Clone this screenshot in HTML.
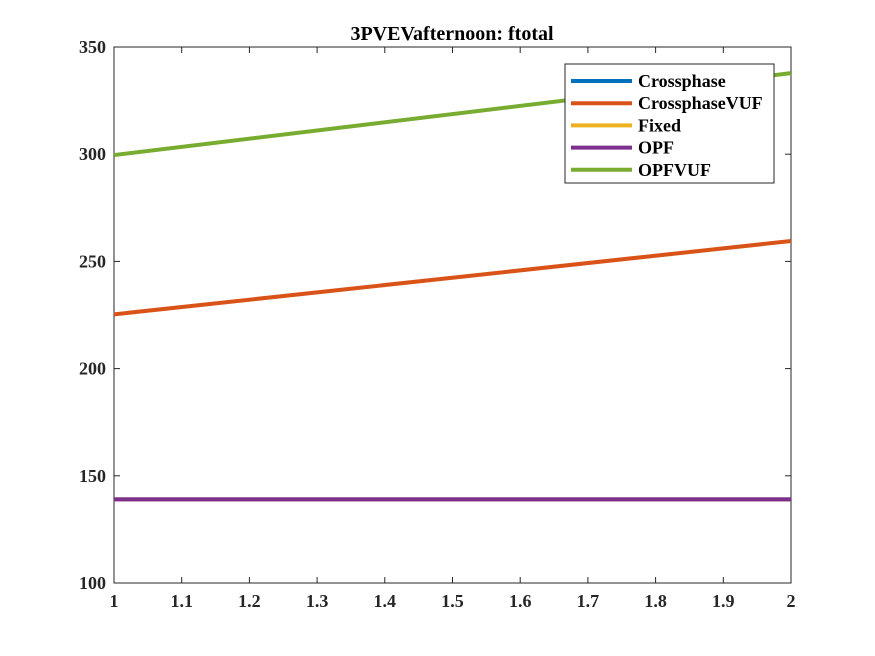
<!DOCTYPE html>
<html><head><meta charset="utf-8"><style>
body{margin:0;background:#fff;}
svg{display:block;font-family:"Liberation Serif",serif;font-weight:bold;}
</style></head><body>
<svg id="chart" width="875" height="656">
<rect width="875" height="656" fill="#fff"/>
<text x="452" y="40" text-anchor="middle" font-size="20">3PVEVafternoon: ftotal</text>
<rect x="114" y="47" width="677" height="536" fill="#fff" stroke="#262626" stroke-width="1"/>
<g id="ticks"></g>
<g id="series"></g>
<g id="legend"></g>
</svg>
<script>
const xTicks=[1,1.1,1.2,1.3,1.4,1.5,1.6,1.7,1.8,1.9,2];
const xTickLabels=["1","1.1","1.2","1.3","1.4","1.5","1.6","1.7","1.8","1.9","2"];
const yTicks=[100,150,200,250,300,350];
const xValues=[1,2];
const seriesNames=["Crossphase","CrossphaseVUF","Fixed","OPF","OPFVUF"];
const seriesColors=["#0072BD","#D95319","#EDB120","#7E2F8E","#77AC30"];
const crossphase=[139,139];
const crossphaseVUF=[225.3,259.5];
const fixed=[139,139];
const opf=[139,139];
const opfVUF=[299.6,337.8];
const allSeries=[crossphase,crossphaseVUF,fixed,opf,opfVUF];

const L=114,R=791,T=47,B=583;
const xs=v=>L+(v-1)/(2-1)*(R-L);
const ys=v=>B-(v-100)/(350-100)*(B-T);
const NS="http://www.w3.org/2000/svg";
function mk(tag,attrs,parent){const e=document.createElementNS(NS,tag);for(const k in attrs)e.setAttribute(k,attrs[k]);parent.appendChild(e);return e;}
const tg=document.getElementById('ticks');
xTicks.forEach((v,i)=>{
  const x=xs(v);
  const l=mk('line',{x1:x,x2:x,y1:B,y2:B-6,stroke:'#262626'},tg);
  
  
  const l2=mk('line',{x1:x,x2:x,y1:T,y2:T+6,stroke:'#262626'},tg);
  
  
  const t=mk('text',{x:x,y:B+24,'text-anchor':'middle','font-size':18,fill:'#262626'},tg);
  t.textContent=xTickLabels[i];
  
  
});
yTicks.forEach(v=>{
  const y=ys(v);
  const l=mk('line',{x1:L,x2:L+6,y1:y,y2:y,stroke:'#262626'},tg);
  
  
  const l2=mk('line',{x1:R,x2:R-6,y1:y,y2:y,stroke:'#262626'},tg);
  
  
  const t=mk('text',{x:L-8,y:y+6,'text-anchor':'end','font-size':18,fill:'#262626'},tg);
  t.textContent=String(v);
  
  
});
const sg=document.getElementById('series');
allSeries.forEach((s,i)=>{
  const pts=s.map((v,j)=>xs(xValues[j])+','+ys(v)).join(' ');
  const p=mk('polyline',{points:pts,fill:'none',stroke:seriesColors[i],'stroke-width':4},sg);
  
  
});
const lg=document.getElementById('legend');
const box=mk('rect',{x:565,y:64,width:209,height:119,fill:'#fff',stroke:'#262626'},lg);


seriesNames.forEach((n,i)=>{
  const y=81+i*22.2;
  const l=mk('line',{x1:571,x2:632,y1:y,y2:y,stroke:seriesColors[i],'stroke-width':4},lg);
  
  
  const t=mk('text',{x:638,y:y+6,'font-size':18,fill:'#000'},lg);
  t.textContent=n;
  
  
});
</script>
</body></html>
